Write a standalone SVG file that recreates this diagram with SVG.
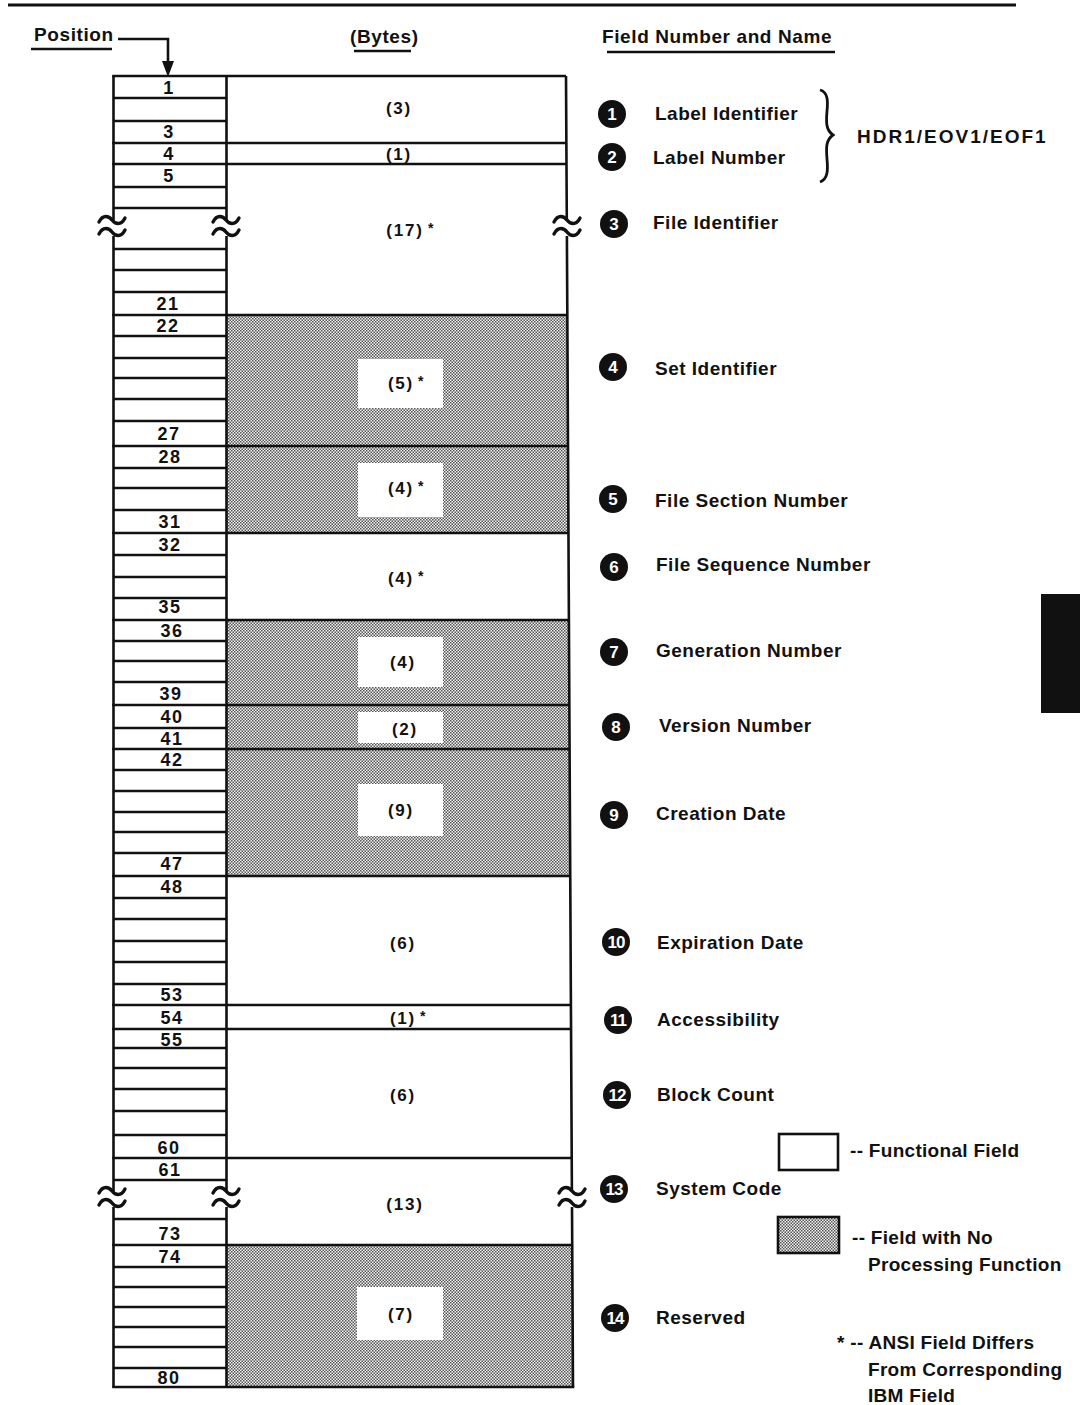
<svg xmlns="http://www.w3.org/2000/svg" width="1080" height="1405" viewBox="0 0 1080 1405">
<style>
text{font-family:"Liberation Sans",Arial,sans-serif;fill:#111;font-weight:bold}
.hd{font-size:19px;letter-spacing:0.6px}
.num{font-size:18px;letter-spacing:1.5px;text-anchor:middle}
.byt{font-size:17px;letter-spacing:1.8px;text-anchor:middle}
.star{font-size:14px}
.lbl{font-size:19px;letter-spacing:0.5px}
.cn{font-size:17px;fill:#fff;text-anchor:middle}
.lg{font-size:19px;letter-spacing:0.3px}
.ln{stroke:#111;stroke-width:2.6;fill:none}
.sh{fill:url(#dots)}
.wb{fill:#fff}
</style>
<defs>
<pattern id="dots" width="3" height="3" patternUnits="userSpaceOnUse">
<rect width="3" height="3" fill="#f2f2f2"/>
<rect width="1.5" height="1.5" fill="#555"/>
<rect x="1.5" y="1.5" width="1.5" height="1.5" fill="#555"/>
</pattern>
<g id="brk">
<path d="M-13,-4 c4,-8 10,-6 13,-2 s9,6 13,-2" stroke="#111" stroke-width="3.4" fill="none" stroke-linecap="round"/>
<path d="M-13,8 c4,-8 10,-6 13,-2 s9,6 13,-2" stroke="#111" stroke-width="3.4" fill="none" stroke-linecap="round"/>
</g>
</defs>
<rect width="1080" height="1405" fill="#fff"/>

<!-- top rule -->
<line x1="8" y1="5" x2="1016" y2="5" stroke="#111" stroke-width="3"/>

<!-- headings -->
<g id="headings">
<text class="hd" x="34" y="41">Position</text>
<line x1="31" y1="49" x2="112" y2="49" class="ln"/>
<text class="hd" x="350" y="43">(Bytes)</text>
<line x1="354" y1="51" x2="411" y2="51" class="ln"/>
<text class="hd" x="602" y="43">Field Number and Name</text>
<line x1="607" y1="52" x2="835" y2="52" class="ln"/>
</g>

<!-- shaded fields -->
<g id="field-4"><polygon class="sh" points="226.5,315 567.3,315 568,446 226.5,446"/><rect class="wb" x="358" y="359" width="85" height="49"/><text class="byt" x="401" y="389">(5)</text><text class="star" x="418" y="386">*</text></g>
<g id="field-5"><polygon class="sh" points="226.5,446 568,446 568.4,533 226.5,533"/><rect class="wb" x="358" y="463" width="85" height="54"/><text class="byt" x="401" y="494">(4)</text><text class="star" x="418" y="491">*</text></g>
<g id="field-7"><polygon class="sh" points="226.5,620 568.9,620 569.3,705 226.5,705"/><rect class="wb" x="358" y="637" width="85" height="50"/><text class="byt" x="403" y="668">(4)</text></g>
<g id="field-8"><polygon class="sh" points="226.5,705 569.3,705 569.6,749 226.5,749"/><rect class="wb" x="358" y="712" width="85" height="31"/><text class="byt" x="405" y="735">(2)</text></g>
<g id="field-9"><polygon class="sh" points="226.5,749 569.6,749 570.3,876 226.5,876"/><rect class="wb" x="358" y="784" width="85" height="52"/><text class="byt" x="401" y="816">(9)</text></g>
<g id="field-14"><polygon class="sh" points="226.5,1245 572.2,1245 573,1387 226.5,1387"/><rect class="wb" x="357" y="1287" width="86" height="53"/><text class="byt" x="401" y="1320">(7)</text></g>

<!-- white fields labels -->
<g id="field-1"><text class="byt" x="399" y="114">(3)</text></g>
<g id="field-2"><text class="byt" x="399" y="160">(1)</text></g>
<g id="field-3"><text class="byt" x="405" y="236">(17)</text><text class="star" x="428" y="233">*</text></g>
<g id="field-6"><text class="byt" x="401" y="584">(4)</text><text class="star" x="418" y="581">*</text></g>
<g id="field-10"><text class="byt" x="403" y="949">(6)</text></g>
<g id="field-11"><text class="byt" x="403" y="1024">(1)</text><text class="star" x="420" y="1021">*</text></g>
<g id="field-12"><text class="byt" x="403" y="1101">(6)</text></g>
<g id="field-13"><text class="byt" x="405" y="1210">(13)</text></g>

<!-- grid lines -->
<g id="grid">
<path class="ln" d="M113.5 98H226.5 M113.5 121H226.5 M113.5 187H226.5 M113.5 208H226.5 M113.5 249H226.5 M113.5 270H226.5 M113.5 292H226.5 M113.5 336H226.5 M113.5 358H226.5 M113.5 378H226.5 M113.5 399H226.5 M113.5 421H226.5 M113.5 468H226.5 M113.5 488H226.5 M113.5 510H226.5 M113.5 555H226.5 M113.5 577H226.5 M113.5 598H226.5 M113.5 641H226.5 M113.5 661H226.5 M113.5 682H226.5 M113.5 728H226.5 M113.5 770H226.5 M113.5 791H226.5 M113.5 812H226.5 M113.5 832H226.5 M113.5 853H226.5 M113.5 898H226.5 M113.5 919H226.5 M113.5 941H226.5 M113.5 962H226.5 M113.5 984H226.5 M113.5 1048H226.5 M113.5 1068H226.5 M113.5 1089H226.5 M113.5 1111H226.5 M113.5 1135H226.5 M113.5 1180H226.5 M113.5 1219H226.5 M113.5 1267H226.5 M113.5 1287H226.5 M113.5 1307H226.5 M113.5 1327H226.5 M113.5 1347H226.5 M113.5 1368H226.5"/>
<path class="ln" d="M112.2 76H566 M112.2 143H566.4 M112.2 164H566.5 M112.2 315H567.3 M112.2 446H568 M112.2 533H568.4 M112.2 620H568.9 M112.2 705H569.3 M112.2 749H569.6 M112.2 876H570.3 M112.2 1005H570.9 M112.2 1029H571.1 M112.2 1158H571.8 M112.2 1245H572.2 M112.2 1387H574.3"/>
<path class="ln" d="M113.5 76V221 M113.5 236V1192 M113.5 1207V1387 M226.5 76V221 M226.5 236V1192 M226.5 1207V1387 M566 76L566.8 221 M566.9 236L571.9 1192 M572 1207L573 1387"/>
<use href="#brk" x="112" y="226"/>
<use href="#brk" x="226" y="226"/>
<use href="#brk" x="567" y="226"/>
<use href="#brk" x="112" y="1197"/>
<use href="#brk" x="226" y="1197"/>
<use href="#brk" x="572" y="1197"/>
</g>

<!-- position numbers -->
<g id="positions">
<text class="num" x="169" y="94">1</text>
<text class="num" x="169" y="138">3</text>
<text class="num" x="169" y="160">4</text>
<text class="num" x="169" y="182">5</text>
<text class="num" x="168" y="310">21</text>
<text class="num" x="168" y="332">22</text>
<text class="num" x="169" y="440">27</text>
<text class="num" x="170" y="463">28</text>
<text class="num" x="170" y="528">31</text>
<text class="num" x="170" y="551">32</text>
<text class="num" x="170" y="613">35</text>
<text class="num" x="172" y="637">36</text>
<text class="num" x="171" y="700">39</text>
<text class="num" x="172" y="723">40</text>
<text class="num" x="172" y="745">41</text>
<text class="num" x="172" y="766">42</text>
<text class="num" x="172" y="870">47</text>
<text class="num" x="172" y="893">48</text>
<text class="num" x="172" y="1001">53</text>
<text class="num" x="172" y="1024">54</text>
<text class="num" x="172" y="1046">55</text>
<text class="num" x="169" y="1154">60</text>
<text class="num" x="170" y="1176">61</text>
<text class="num" x="170" y="1240">73</text>
<text class="num" x="170" y="1263">74</text>
<text class="num" x="169" y="1384">80</text>
</g>

<!-- connectors -->
<g id="connectors">
<path d="M118 39H168V63" stroke="#111" stroke-width="2.6" fill="none"/>
<polygon points="162,61 174,61 168,77" fill="#111"/>
</g>

<!-- field names -->
<g id="names">
<g id="name-1"><circle cx="612" cy="114" r="14" fill="#111"/><text class="cn" x="612" y="120">1</text><text class="lbl" x="655" y="120">Label Identifier</text></g>
<g id="name-2"><circle cx="612" cy="157" r="14" fill="#111"/><text class="cn" x="612" y="163">2</text><text class="lbl" x="653" y="164">Label Number</text></g>
<g id="name-3"><circle cx="614" cy="224" r="14" fill="#111"/><text class="cn" x="614" y="230">3</text><text class="lbl" x="653" y="229">File Identifier</text></g>
<g id="name-4"><circle cx="613" cy="367" r="14" fill="#111"/><text class="cn" x="613" y="373">4</text><text class="lbl" x="655" y="375">Set Identifier</text></g>
<g id="name-5"><circle cx="613" cy="499" r="14" fill="#111"/><text class="cn" x="613" y="505">5</text><text class="lbl" x="655" y="507">File Section Number</text></g>
<g id="name-6"><circle cx="614" cy="567" r="14" fill="#111"/><text class="cn" x="614" y="573">6</text><text class="lbl" x="656" y="571">File Sequence Number</text></g>
<g id="name-7"><circle cx="614" cy="652" r="14" fill="#111"/><text class="cn" x="614" y="658">7</text><text class="lbl" x="656" y="657">Generation Number</text></g>
<g id="name-8"><circle cx="616" cy="727" r="14" fill="#111"/><text class="cn" x="616" y="733">8</text><text class="lbl" x="659" y="732">Version Number</text></g>
<g id="name-9"><circle cx="614" cy="815" r="14" fill="#111"/><text class="cn" x="614" y="821">9</text><text class="lbl" x="656" y="820">Creation Date</text></g>
<g id="name-10"><circle cx="616" cy="942" r="14" fill="#111"/><text class="cn" x="616" y="948" style="letter-spacing:-1px">10</text><text class="lbl" x="657" y="949">Expiration Date</text></g>
<g id="name-11"><circle cx="618" cy="1020" r="14" fill="#111"/><text class="cn" x="618" y="1026" style="letter-spacing:-1px">11</text><text class="lbl" x="657" y="1026">Accessibility</text></g>
<g id="name-12"><circle cx="617" cy="1095" r="14" fill="#111"/><text class="cn" x="617" y="1101" style="letter-spacing:-1px">12</text><text class="lbl" x="657" y="1101">Block Count</text></g>
<g id="name-13"><circle cx="614" cy="1189" r="14" fill="#111"/><text class="cn" x="614" y="1195" style="letter-spacing:-1px">13</text><text class="lbl" x="656" y="1195">System Code</text></g>
<g id="name-14"><circle cx="615" cy="1318" r="14" fill="#111"/><text class="cn" x="615" y="1324" style="letter-spacing:-1px">14</text><text class="lbl" x="656" y="1324">Reserved</text></g>
<g id="label-group">
<path d="M820 90 C828 92 828 101 827 111 C826 123 826 130 833 135 C826 140 826 147 827 159 C828 170 828 179 820 182" stroke="#111" stroke-width="2.8" fill="none"/>
<text class="lbl" x="857" y="143" style="letter-spacing:2px">HDR1/EOV1/EOF1</text>
</g>
</g>

<!-- legend -->
<g id="legend">
<rect x="779" y="1134" width="59" height="36" fill="#fff" stroke="#111" stroke-width="2.6"/>
<text class="lg" x="850" y="1157">-- Functional Field</text>
<rect x="778" y="1217" width="61" height="36" fill="url(#dots)" stroke="#111" stroke-width="2.6"/>
<text class="lg" x="852" y="1244">-- Field with No</text>
<text class="lg" x="868" y="1271">Processing Function</text>
<text class="lg" x="837" y="1349">* -- ANSI Field Differs</text>
<text class="lg" x="868" y="1376">From Corresponding</text>
<text class="lg" x="868" y="1402">IBM Field</text>
</g>

<!-- side tab -->
<rect id="tab" x="1041" y="594" width="39" height="119" fill="#111"/>
</svg>
